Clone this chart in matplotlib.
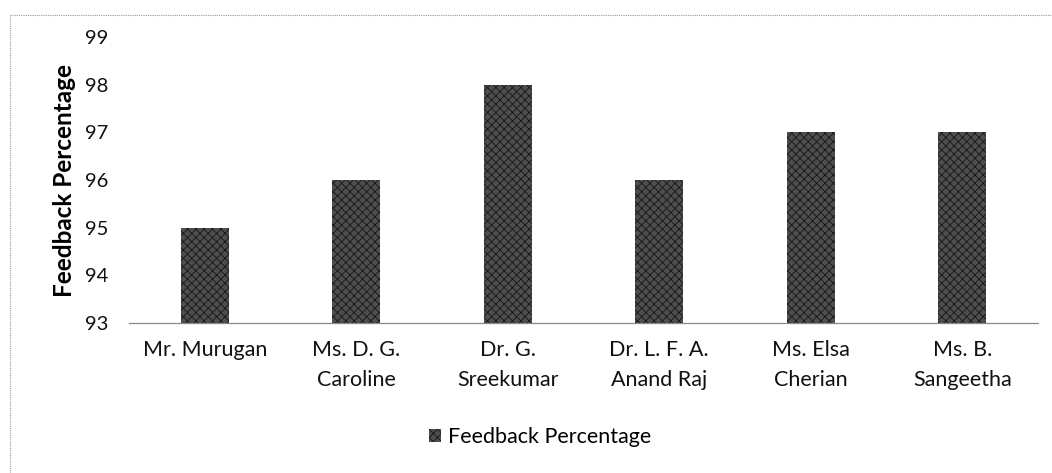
import matplotlib
matplotlib.use("Agg")
import matplotlib.pyplot as plt
from matplotlib.patches import Rectangle

categories = ["Mr. Murugan", "Ms. D. G.\nCaroline", "Dr. G.\nSreekumar",
              "Dr. L. F. A.\nAnand Raj", "Ms. Elsa\nCherian", "Ms. B.\nSangeetha"]
values = [95, 96, 98, 96, 97, 97]
yticks = [93, 94, 95, 96, 97, 98, 99]
series_name = "Feedback Percentage"

plt.rcParams['font.family'] = ['Lato', 'DejaVu Sans']
plt.rcParams['hatch.linewidth'] = 0.6

fig = plt.figure(figsize=(10.52, 4.73), dpi=100)
ax = fig.add_axes([129/1052, 1-323/473, (1038-129)/1052, (323-37)/473])

x = list(range(len(categories)))
ax.bar(x, [v - 93 for v in values], bottom=93, width=0.32,
       color='#4e4e4e', edgecolor='#161616', hatch='xxxx', linewidth=0,
       label=series_name)

ax.set_ylim(93, 99)
ax.set_xlim(-0.5, len(categories) - 0.5)
ax.set_yticks(yticks)
ax.set_yticklabels([str(t) for t in yticks], fontsize=14.5, color='#111111')
ax.set_xticks(x)
ax.set_xticklabels(categories, fontsize=15.5, color='#111111', linespacing=1.65)
ax.tick_params(axis='both', length=0)
ax.tick_params(axis='y', pad=15)
ax.tick_params(axis='x', pad=12)
for s in ['top', 'right', 'left']:
    ax.spines[s].set_visible(False)
ax.spines['bottom'].set_color('#888888')
ax.spines['bottom'].set_linestyle((0, (1, 1)))
ax.spines['bottom'].set_linewidth(0.9)
ax.set_ylabel(series_name, fontsize=17.5, fontweight='bold', labelpad=6)

fig.legend(loc='center', bbox_to_anchor=(540/1052, 1-437/473), frameon=False,
           fontsize=15.5, handlelength=0.55, handleheight=0.55, handletextpad=0.3)

border = Rectangle((10/1052, -0.02), 1.05, 1-15/473+0.02, transform=fig.transFigure,
                   fill=False, edgecolor='#999999', linestyle=(0, (1, 1)), linewidth=0.8)
fig.patches.append(border)

fig.savefig("out.png", dpi=100)
